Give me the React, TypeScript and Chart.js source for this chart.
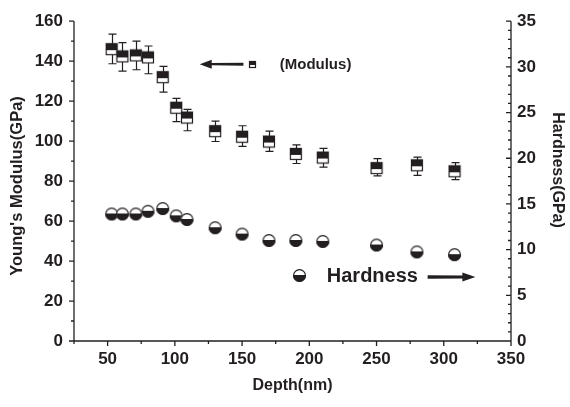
import React, { useEffect, useRef } from 'react';
import { Chart, registerables } from 'chart.js';

Chart.register(...registerables);

// ---------- data ----------
const depth = [53, 61, 71, 80, 91, 101, 109, 130, 150, 170, 190, 210, 250, 280, 308];
const modulus = [146, 142.4, 142.9, 141.9, 132, 116.7, 111.8, 105, 102.2, 99.8, 93.6, 91.8, 86.5, 87.9, 84.9];
const modulusHigh = [153.5, 149.3, 150, 147.6, 137.4, 121.4, 115.9, 110, 107.7, 105, 98.1, 96.4, 91.2, 92, 89.2];
const modulusLow = [138.7, 135, 135.7, 133.7, 124.5, 109.8, 105.2, 99.8, 97.4, 94.9, 88.8, 87, 82.6, 82.9, 80.7];
const hardness = [13.9, 13.9, 13.9, 14.2, 14.5, 13.7, 13.3, 12.4, 11.7, 11.0, 11.0, 10.9, 10.5, 9.75, 9.45];

// ---------- ticks ----------
const xMajor = [50, 100, 150, 200, 250, 300, 350];
const xMinor = [25, 75, 125, 175, 225, 275, 325];
const yLeftMajor = [0, 20, 40, 60, 80, 100, 120, 140, 160];
const yLeftMinor = [10, 30, 50, 70, 90, 110, 130, 150];
const yRightMajor = [0, 5, 10, 15, 20, 25, 30, 35];
const yRightMinor = [1, 2, 3, 4, 6, 7, 8, 9, 11, 12, 13, 14, 16, 17, 18, 19, 21, 22, 23, 24, 26, 27, 28, 29, 31, 32, 33, 34];

// ---------- titles ----------
const xTitle = 'Depth(nm)';
const yLeftTitle = "Young's Modulus(GPa)";
const yRightTitle = 'Hardness(GPa)';

// ---------- annotation anchors (data units: depth, modulus) ----------
const modulusNote = { arrowTip: 118.5, arrowTail: 151, marker: 158, text: 178, value: 138.5, label: '(Modulus)' };
const hardnessNote = { marker: 193, text: 213, arrowTail: 288, arrowTip: 323.5, value: 33, label: 'Hardness' };

const INK = '#231f20';
const FONT = "'Liberation Sans', Arial, Helvetica, sans-serif";

function makeBoxMarker(size: number): HTMLCanvasElement {
  const c = document.createElement('canvas');
  c.width = size + 2;
  c.height = size + 2;
  const g = c.getContext('2d')!;
  const o = 1;
  g.fillStyle = '#fff';
  g.fillRect(o, o, size, size);
  g.fillStyle = INK;
  g.fillRect(o, o, size, Math.round(size * 0.55));
  g.strokeStyle = INK;
  g.lineWidth = 1.2;
  g.strokeRect(o + 0.5, o + 0.5, size - 1, size - 1);
  return c;
}

function makeCircleMarker(d: number): HTMLCanvasElement {
  const c = document.createElement('canvas');
  c.width = d + 2;
  c.height = d + 2;
  const g = c.getContext('2d')!;
  const cx = (d + 2) / 2;
  const r = d / 2;
  g.save();
  g.beginPath();
  g.arc(cx, cx, r, 0, Math.PI * 2);
  g.clip();
  g.fillStyle = '#fff';
  g.fillRect(0, 0, d + 2, d + 2);
  g.fillStyle = INK;
  g.fillRect(0, cx - 0.5, d + 2, d);
  g.restore();
  g.beginPath();
  g.arc(cx, cx, r - 0.6, 0, Math.PI * 2);
  g.strokeStyle = INK;
  g.lineWidth = 1.2;
  g.stroke();
  return c;
}

function drawArrow(ctx: CanvasRenderingContext2D, x1: number, x2: number, y: number, thick: number, headLen: number, headHalf: number) {
  const dir = x2 > x1 ? 1 : -1;
  const base = x2 - dir * headLen;
  ctx.save();
  ctx.fillStyle = INK;
  ctx.beginPath();
  ctx.moveTo(x1, y - thick / 2);
  ctx.lineTo(base, y - thick / 2 + 0.3);
  ctx.lineTo(base, y - headHalf);
  ctx.lineTo(x2, y);
  ctx.lineTo(base, y + headHalf);
  ctx.lineTo(base, y + thick / 2 - 0.3);
  ctx.lineTo(x1, y + thick / 2);
  ctx.closePath();
  ctx.fill();
  ctx.restore();
}

const App: React.FC = () => {
  const ref = useRef<HTMLCanvasElement | null>(null);

  useEffect(() => {
    if (!ref.current) return;
    const boxMarker = makeBoxMarker(12);
    const smallBox = makeBoxMarker(7);
    const circleMarker = makeCircleMarker(13);

    const axesPlugin = {
      id: 'axesTicks',
      afterDraw(chart: any) {
        const ctx: CanvasRenderingContext2D = chart.ctx;
        const x = chart.scales.x;
        const y = chart.scales.y;
        const y1 = chart.scales.y1;
        const { left, right, top, bottom } = chart.chartArea;
        ctx.save();
        ctx.strokeStyle = INK;
        ctx.lineWidth = 1.3;
        ctx.beginPath();
        ctx.moveTo(left, top);
        ctx.lineTo(left, bottom);
        ctx.lineTo(right, bottom);
        ctx.moveTo(right, top);
        ctx.lineTo(right, bottom);
        xMajor.forEach((v) => {
          const p = x.getPixelForValue(v);
          ctx.moveTo(p, bottom);
          ctx.lineTo(p, bottom + 5);
        });
        xMinor.forEach((v) => {
          const p = x.getPixelForValue(v);
          ctx.moveTo(p, bottom);
          ctx.lineTo(p, bottom + 3);
        });
        yLeftMajor.forEach((v) => {
          const p = y.getPixelForValue(v);
          ctx.moveTo(left, p);
          ctx.lineTo(left - 5, p);
        });
        yLeftMinor.forEach((v) => {
          const p = y.getPixelForValue(v);
          ctx.moveTo(left, p);
          ctx.lineTo(left - 3, p);
        });
        yRightMajor.forEach((v) => {
          const p = y1.getPixelForValue(v);
          ctx.moveTo(right, p);
          ctx.lineTo(right - 5, p);
        });
        yRightMinor.forEach((v) => {
          const p = y1.getPixelForValue(v);
          ctx.moveTo(right, p);
          ctx.lineTo(right - 3, p);
        });
        ctx.stroke();

        // axis titles
        ctx.fillStyle = INK;
        ctx.textAlign = 'center';
        ctx.textBaseline = 'middle';
        ctx.font = `bold 16px ${FONT}`;
        ctx.fillText(xTitle, (left + right) / 2, 386);
        ctx.save();
        ctx.translate(17, 186);
        ctx.rotate(-Math.PI / 2);
        ctx.font = `bold 16.5px ${FONT}`;
        ctx.fillText(yLeftTitle, 0, 0);
        ctx.restore();
        ctx.save();
        ctx.translate(557, 170);
        ctx.rotate(Math.PI / 2);
        ctx.font = `bold 16px ${FONT}`;
        ctx.fillText(yRightTitle, 0, 0);
        ctx.restore();
        ctx.restore();
      },
    };

    const errorPlugin = {
      id: 'errorBars',
      beforeDatasetsDraw(chart: any) {
        const ctx: CanvasRenderingContext2D = chart.ctx;
        const x = chart.scales.x;
        const y = chart.scales.y;
        ctx.save();
        ctx.strokeStyle = INK;
        ctx.lineWidth = 1.2;
        ctx.beginPath();
        depth.forEach((d, i) => {
          const px = Math.round(x.getPixelForValue(d)) + 0.5;
          const hi = y.getPixelForValue(modulusHigh[i]);
          const lo = y.getPixelForValue(modulusLow[i]);
          ctx.moveTo(px, hi);
          ctx.lineTo(px, lo);
          ctx.moveTo(px - 4, hi);
          ctx.lineTo(px + 4, hi);
          ctx.moveTo(px - 4, lo);
          ctx.lineTo(px + 4, lo);
        });
        ctx.stroke();
        ctx.restore();
      },
    };

    const notePlugin = {
      id: 'notes',
      afterDatasetsDraw(chart: any) {
        const ctx: CanvasRenderingContext2D = chart.ctx;
        const x = chart.scales.x;
        const y = chart.scales.y;
        ctx.save();
        const my = y.getPixelForValue(modulusNote.value);
        drawArrow(ctx, x.getPixelForValue(modulusNote.arrowTail), x.getPixelForValue(modulusNote.arrowTip), my, 3, 12, 4.5);
        const mx = x.getPixelForValue(modulusNote.marker);
        ctx.drawImage(smallBox, Math.round(mx - smallBox.width / 2), Math.round(my - smallBox.height / 2));
        ctx.fillStyle = INK;
        ctx.font = `bold 15px ${FONT}`;
        ctx.textBaseline = 'middle';
        ctx.textAlign = 'left';
        ctx.fillText(modulusNote.label, x.getPixelForValue(modulusNote.text), my + 1);
        const hy = y.getPixelForValue(hardnessNote.value);
        const hx = x.getPixelForValue(hardnessNote.marker);
        ctx.drawImage(circleMarker, Math.round(hx - circleMarker.width / 2), Math.round(hy - circleMarker.height / 2));
        ctx.font = `bold 20px ${FONT}`;
        ctx.fillText(hardnessNote.label, x.getPixelForValue(hardnessNote.text), hy + 1);
        drawArrow(ctx, x.getPixelForValue(hardnessNote.arrowTail), x.getPixelForValue(hardnessNote.arrowTip), hy + 2, 3.5, 13, 4.5);
        ctx.restore();
      },
    };

    const tickFont = { family: FONT, size: 17, weight: 'bold' as const };

    const chart = new Chart(ref.current, {
      type: 'scatter',
      data: {
        datasets: [
          {
            label: 'Modulus',
            data: depth.map((d, i) => ({ x: d, y: modulus[i] })),
            yAxisID: 'y',
            pointStyle: boxMarker as any,
            pointRadius: 6,
            showLine: false,
          },
          {
            label: 'Hardness',
            data: depth.map((d, i) => ({ x: d, y: hardness[i] })),
            yAxisID: 'y1',
            pointStyle: circleMarker as any,
            pointRadius: 7,
            showLine: false,
          },
        ],
      },
      options: {
        animation: false,
        responsive: false,
        layout: { padding: { top: 17, left: 0, right: 0, bottom: 0 } },
        plugins: { legend: { display: false }, tooltip: { enabled: false } },
        scales: {
          x: {
            type: 'linear',
            min: 25,
            max: 350,
            grid: { display: false, drawTicks: false },
            border: { display: false },
            afterBuildTicks: (s: any) => { s.ticks = xMajor.map((v) => ({ value: v })); },
            afterFit: (s: any) => { s.height = 66; },
            ticks: { color: INK, font: tickFont, padding: 8, maxRotation: 0, autoSkip: false },
          },
          y: {
            type: 'linear',
            position: 'left',
            min: 0,
            max: 160,
            grid: { display: false, drawTicks: false },
            border: { display: false },
            afterBuildTicks: (s: any) => { s.ticks = yLeftMajor.map((v) => ({ value: v })); },
            afterFit: (s: any) => { s.width = 74; },
            ticks: { color: INK, font: tickFont, padding: 11, autoSkip: false },
          },
          y1: {
            type: 'linear',
            position: 'right',
            min: 0,
            max: 35,
            grid: { display: false, drawTicks: false },
            border: { display: false },
            afterBuildTicks: (s: any) => { s.ticks = yRightMajor.map((v) => ({ value: v })); },
            afterFit: (s: any) => { s.width = 59; },
            ticks: { color: INK, font: tickFont, padding: 6, autoSkip: false },
          },
        },
      },
      plugins: [errorPlugin, notePlugin, axesPlugin],
    });
    return () => chart.destroy();
  }, []);

  return (
    <div style={{ position: 'fixed', left: 0, top: 0, width: 570, height: 407, background: '#fff' }}>
      <canvas ref={ref} width={570} height={407} style={{ display: 'block', width: 570, height: 407 }} />
    </div>
  );
};

export default App;
